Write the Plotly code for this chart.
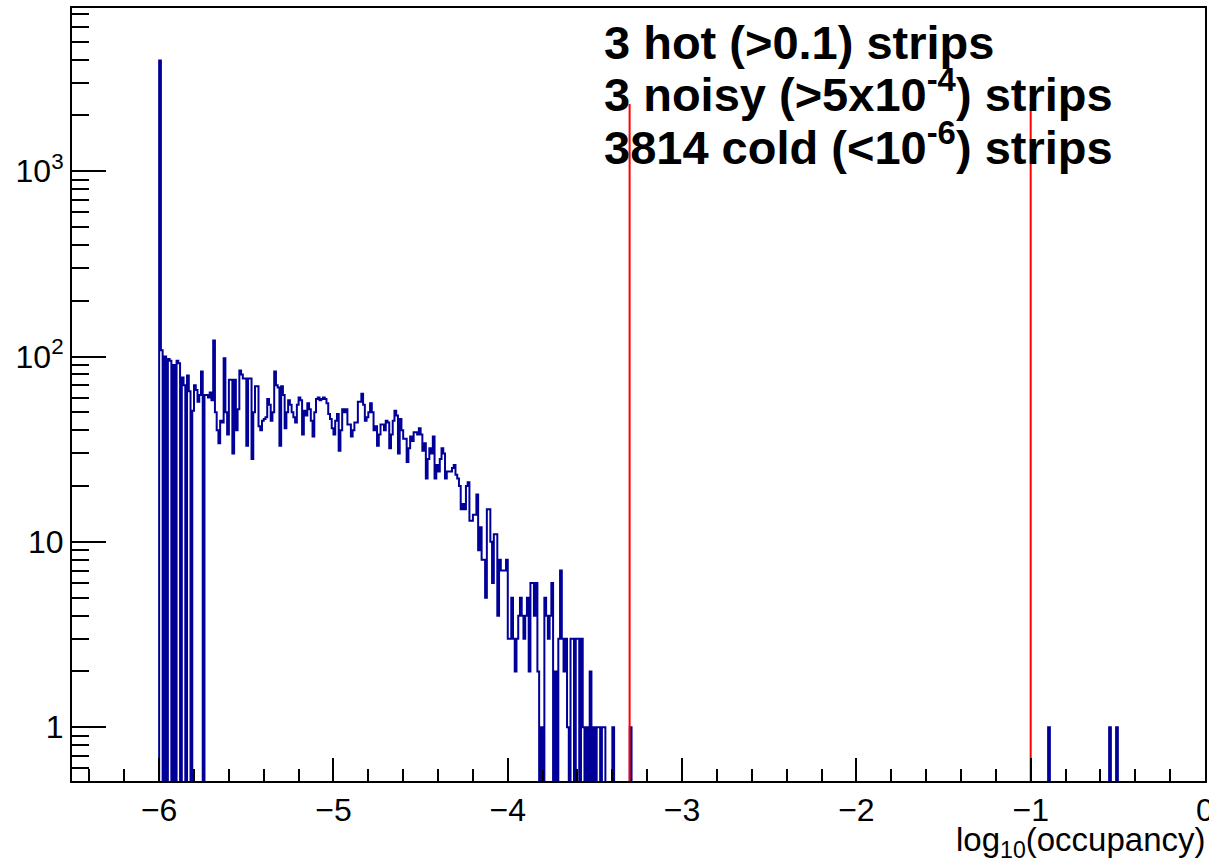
import math
import plotly.graph_objects as go

# ---------------- data ----------------
bin_lo = -6.5          # histogram lower edge
bin_hi = 0.0           # histogram upper edge
bin_width = 0.01
main_start = -6.0      # left edge of the first entry of counts_main

counts_main = [
    3950, 108, 0, 100, 0, 97, 95, 0, 90, 0,
    95, 92, 0, 77, 70, 0, 79, 65, 0, 51,
    70, 66, 57, 62, 83, 0, 62, 62, 60, 64,
    58, 122, 50, 40, 34, 45, 44, 98, 50, 38,
    75, 75, 30, 75, 40, 52, 84, 80, 76, 76,
    33, 76, 76, 28, 50, 69, 69, 42, 40, 45,
    46, 47, 59, 55, 45, 50, 83, 70, 68, 33,
    69, 62, 41, 50, 58, 55, 50, 47, 44, 55,
    60, 58, 38, 51, 48, 56, 52, 45, 37, 50,
    59, 60, 58, 59, 60, 59, 56, 49, 46, 41,
    38, 45, 49, 31, 40, 52, 50, 52, 43, 43,
    37, 40, 44, 44, 57, 57, 63, 55, 45, 47,
    50, 56, 50, 40, 42, 33, 38, 43, 43, 40,
    45, 44, 32, 38, 45, 51, 48, 30, 46, 40,
    36, 36, 27, 32, 37, 35, 39, 39, 38, 41,
    38, 31, 34, 22, 28, 32, 30, 37, 22, 26,
    24, 28, 32, 30, 22, 24, 24, 24, 25, 26,
    23, 22, 20, 15, 16, 15, 20, 21, 13, 13,
    14, 14, 18, 9, 12, 8, 8, 5, 15, 15,
    10, 6, 11, 11, 4, 8, 7, 7, 7, 8,
    3, 3, 5, 3, 2, 3, 4, 5, 4, 3,
    4, 5, 2, 6, 6, 4, 6, 2, 0, 1,
    0, 5, 4, 3, 4, 6, 0, 2, 0, 3,
    7, 3, 2, 3, 1, 0, 3, 3, 0, 3,
    3, 0, 3, 1, 0, 1, 0, 2, 0, 1,
    0, 1, 1, 0, 1, 1, 0, 0, 0, 0,
    1, 0, 0, 0, 0, 0, 0, 0, 0, 0,
    1,
]

hot_bin_lefts = [-0.90, -0.55, -0.51]
hot_counts = [1, 1, 1]

noisy_threshold = 5e-4
hot_threshold = 0.1
red_line_top = 2300

x_range = [-6.5, 0.0]
y_range_log = [-0.29, 3.88]
x_tick_vals = [-6, -5, -4, -3, -2, -1, 0]
y_tick_vals = [1, 10, 100, 1000]
y_tick_text = ["1", "10", "10<sup>2</sup>", "10<sup>3</sup>"]
y_minor_vals = [0.6, 0.7, 0.8, 0.9,
                2, 3, 4, 5, 6, 7, 8, 9,
                20, 30, 40, 50, 60, 70, 80, 90,
                200, 300, 400, 500, 600, 700, 800, 900,
                2000, 3000, 4000, 5000, 6000, 7000]

text_lines = [
    "<b>3 hot (&gt;0.1) strips</b>",
    "<b>3 noisy (&gt;5x10<sup>-4</sup>) strips</b>",
    "<b>3814 cold (&lt;10<sup>-6</sup>) strips</b>",
]
x_title = "log<sub>10</sub>(occupancy)"

# ---------------- build histogram ----------------
n_bins = int(round((bin_hi - bin_lo) / bin_width))
counts = [0] * n_bins
start_idx = int(round((main_start - bin_lo) / bin_width))
for i, c in enumerate(counts_main):
    counts[start_idx + i] = c
for xl, c in zip(hot_bin_lefts, hot_counts):
    counts[int(round((xl - bin_lo) / bin_width))] += c

floor = 1e-3  # empty bins drop below the visible range (as ROOT does)
edges = [bin_lo + i * bin_width for i in range(n_bins + 1)]
xs = [edges[0]]
ys = [floor]
for i, c in enumerate(counts):
    v = c if c > 0 else floor
    xs += [edges[i], edges[i + 1]]
    ys += [v, v]
xs.append(edges[-1])
ys.append(floor)

fig = go.Figure()
fig.add_trace(go.Scatter(
    x=xs, y=ys, mode="lines",
    line=dict(color="#000099", width=2, simplify=False),
    hoverinfo="skip", showlegend=False,
))

y_bottom = 10 ** y_range_log[0]
for thr in (noisy_threshold, hot_threshold):
    xv = math.log10(thr)
    fig.add_trace(go.Scatter(
        x=[xv, xv], y=[y_bottom, red_line_top], mode="lines",
        line=dict(color="#ff0000", width=2),
        hoverinfo="skip", showlegend=False,
    ))

FONT = "Liberation Sans, Arial, Helvetica, sans-serif"

x_minor = [round(-6.4 + 0.2 * i, 1) for i in range(33)]
x_minor = [v for v in x_minor if abs(v - round(v)) > 1e-6 and v < 0]

fig.update_xaxes(
    range=x_range, showgrid=False, zeroline=False, automargin=False,
    showline=True, linecolor="black", linewidth=2, mirror=True,
    tickmode="array", tickvals=x_tick_vals,
    ticks="inside", ticklen=23, tickwidth=2, tickcolor="black",
    minor=dict(tickmode="array", tickvals=x_minor, ticks="inside",
               ticklen=12, tickwidth=2, tickcolor="black", showgrid=False),
    tickfont=dict(family=FONT, size=32, color="black"),
    ticklabelstandoff=0, ticklabeloverflow="allow",
)
fig.update_yaxes(
    type="log", range=y_range_log, showgrid=False, zeroline=False,
    automargin=False,
    showline=True, linecolor="black", linewidth=2, mirror=True,
    tickmode="array", tickvals=y_tick_vals, ticktext=y_tick_text,
    ticks="inside", ticklen=34, tickwidth=2, tickcolor="black",
    minor=dict(tickmode="array", tickvals=y_minor_vals, ticks="inside",
               ticklen=17, tickwidth=2, tickcolor="black", showgrid=False),
    tickfont=dict(family=FONT, size=32, color="black"),
    ticklabelstandoff=0,
)

text_y_px = [71, 123, 176]  # bottoms of the text boxes (pixels from top)
plot_top, plot_h = 8, 773
for t, ypx in zip(text_lines, text_y_px):
    fig.add_annotation(
        text=t, xref="paper", yref="paper",
        x=(602 - 72) / 1133, y=1 - (ypx - plot_top) / plot_h,
        xanchor="left", yanchor="bottom", showarrow=False,
        font=dict(family=FONT, size=47, color="black"),
    )

fig.add_annotation(
    text=x_title, xref="paper", yref="paper", x=1.0, y=0.0,
    xanchor="right", yanchor="top", yshift=-38, xshift=2, showarrow=False,
    font=dict(family=FONT, size=33, color="black"),
)

fig.update_layout(
    width=1209, height=862,
    margin=dict(l=72, r=4, t=8, b=81, autoexpand=False),
    paper_bgcolor="white", plot_bgcolor="white",
)

fig.write_html("out.html")
